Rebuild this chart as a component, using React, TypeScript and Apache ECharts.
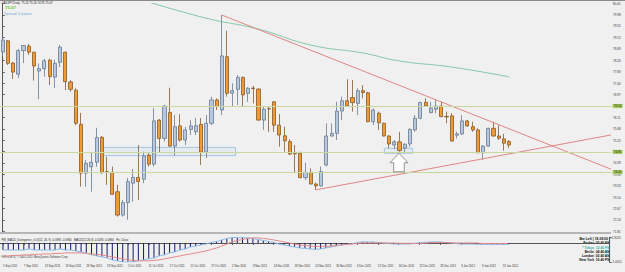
import React, { useEffect, useRef } from "react";
import * as echarts from "echarts";

// [open, close, low, high] per daily bar, CADJPY, from 1 Sep 2011
const ohlc: [number, number, number, number][] = [
  [78.58, 79.03, 78.43, 79.18], [79.0, 78.15, 78.09, 79.03], [78.16, 77.82, 77.56, 78.2], [77.74, 78.63, 77.6, 78.69],
  [78.63, 78.82, 78.16, 78.84], [78.8, 78.57, 78.47, 78.88], [78.57, 78.05, 77.5, 78.59], [77.86, 77.95, 76.8, 78.15],
  [77.95, 78.25, 77.64, 78.32], [78.27, 77.65, 77.33, 78.32], [77.63, 78.15, 77.22, 78.28], [78.19, 78.76, 78.01, 78.84],
  [78.57, 77.46, 77.14, 78.59], [77.45, 77.17, 77.08, 77.52], [77.14, 75.89, 75.82, 77.21], [75.85, 74.01, 73.5, 76.28],
  [74.01, 74.38, 73.5, 74.51], [74.25, 74.42, 73.31, 74.77], [74.42, 75.35, 74.25, 75.72], [75.36, 74.03, 73.98, 75.41],
  [74.06, 74.05, 73.57, 74.63], [74.04, 73.21, 73.19, 74.26], [73.31, 72.43, 72.37, 73.57], [72.43, 72.9, 72.37, 73.0],
  [72.9, 73.69, 72.25, 73.83], [73.63, 73.85, 72.93, 74.17], [73.85, 73.69, 73.0, 75.07], [73.78, 74.66, 73.63, 74.82],
  [74.69, 74.35, 74.26, 74.76], [74.35, 75.98, 74.26, 76.47], [76.01, 75.32, 74.77, 76.05], [75.32, 76.54, 75.2, 76.58],
  [76.3, 75.03, 75.01, 77.23], [75.03, 75.76, 74.66, 76.2], [75.79, 75.26, 75.2, 76.23], [75.26, 75.64, 75.07, 75.76],
  [75.66, 75.79, 75.45, 76.01], [75.57, 75.8, 75.45, 76.09], [75.85, 74.8, 74.32, 76.09], [74.8, 75.89, 74.58, 76.2],
  [75.89, 76.77, 75.82, 76.89], [76.77, 76.52, 76.39, 76.83], [76.39, 78.43, 76.2, 79.97], [78.4, 77.02, 76.89, 79.38],
  [77.02, 77.12, 76.52, 77.4], [77.17, 77.62, 76.58, 77.71], [77.62, 76.96, 76.52, 77.65], [77.02, 77.21, 76.7, 77.25],
  [77.22, 77.2, 76.64, 77.3], [77.18, 76.01, 75.99, 77.21], [76.01, 76.42, 75.64, 76.51], [76.44, 76.43, 75.57, 76.51],
  [76.7, 75.82, 75.57, 76.73], [75.82, 75.45, 75.01, 76.24], [75.42, 75.23, 74.82, 75.76], [75.2, 74.73, 74.69, 75.29],
  [74.76, 74.74, 74.01, 75.07], [74.76, 73.84, 73.82, 74.82], [73.84, 74.04, 73.75, 74.4], [74.04, 73.6, 73.59, 74.19],
  [73.6, 73.53, 73.38, 73.65], [73.53, 74.07, 73.5, 74.26], [74.32, 75.41, 74.26, 75.89], [75.41, 75.51, 75.39, 75.89],
  [75.51, 76.35, 75.26, 76.7], [76.35, 76.74, 76.01, 76.89], [76.74, 76.54, 76.52, 77.55], [76.86, 76.67, 76.33, 77.52],
  [76.64, 77.12, 76.2, 77.21], [77.12, 77.05, 76.83, 77.33], [77.04, 75.95, 75.93, 77.08], [75.95, 76.39, 75.82, 76.45],
  [76.27, 75.91, 75.64, 76.33], [75.89, 75.41, 75.39, 75.91], [75.41, 75.11, 74.95, 75.45], [75.07, 75.19, 74.91, 75.26],
  [75.19, 74.86, 74.82, 75.57], [74.95, 75.1, 74.76, 75.14], [75.11, 75.66, 75.01, 75.7], [75.64, 76.08, 75.57, 76.2],
  [76.08, 76.67, 76.04, 76.7], [76.68, 76.54, 76.52, 76.83], [76.29, 76.46, 76.27, 76.7], [76.42, 76.54, 76.27, 76.77],
  [76.54, 76.14, 76.12, 76.7], [76.15, 76.13, 75.89, 76.33], [76.17, 75.22, 75.2, 76.27], [75.44, 75.49, 75.32, 75.57],
  [75.49, 75.98, 75.45, 76.2], [75.98, 75.79, 75.76, 76.01], [75.76, 75.64, 75.57, 75.95], [75.64, 74.78, 74.76, 75.7],
  [74.78, 75.03, 74.51, 75.07], [75.03, 75.7, 75.01, 75.72], [75.7, 75.41, 75.39, 75.95], [75.41, 75.33, 75.26, 75.82],
  [75.3, 75.14, 74.86, 75.49], [75.2, 75.07, 74.95, 75.26],
];

const macdHist = [
  -0.39, -0.39, -0.39, -0.39, -0.39, -0.33, -0.39, -0.39, -0.39, -0.39, -0.39, -0.33, -0.39, -0.39, -0.44, -0.5,
  -0.55, -0.66, -0.72, -0.77, -0.83, -0.94, -0.99, -1.05, -1.05, -1.05, -0.99, -0.94, -0.88, -0.83, -0.72, -0.66,
  -0.55, -0.5, -0.39, -0.33, -0.22, -0.17, -0.11, -0.06, 0.03, 0.08, 0.17, 0.25, 0.3, 0.3, 0.3, 0.28,
  0.25, 0.19, 0.14, 0.08, 0.03, -0.06, -0.11, -0.17, -0.22, -0.28, -0.3, -0.33, -0.36, -0.33, -0.28, -0.22,
  -0.17, -0.11, -0.08, -0.06, 0.03, 0.06, 0.06, 0.06, 0.03, 0, -0.03, -0.06, -0.06, -0.06, -0.06, -0.03,
  0.02, 0.03, 0.06, 0.06, 0.06, 0.03, 0, -0.03, -0.06, -0.06, -0.06, -0.07, -0.08, -0.08, -0.08, -0.08,
  -0.08, -0.08,
];

const macdSignal = [
  -0.72, -0.72, -0.69, -0.69, -0.66, -0.66, -0.63, -0.63, -0.61, -0.61, -0.58, -0.58, -0.55, -0.55, -0.55, -0.55,
  -0.58, -0.61, -0.63, -0.66, -0.72, -0.77, -0.83, -0.88, -0.94, -0.96, -0.99, -0.99, -0.99, -0.96, -0.94, -0.88,
  -0.83, -0.77, -0.72, -0.66, -0.61, -0.55, -0.5, -0.44, -0.36, -0.28, -0.17, -0.06, 0.06, 0.14, 0.19, 0.25,
  0.28, 0.28, 0.25, 0.22, 0.17, 0.11, 0.06, 0, -0.06, -0.11, -0.14, -0.17, -0.19, -0.19, -0.19, -0.17,
  -0.14, -0.11, -0.08, -0.06, -0.03, 0, 0, 0, 0, 0, 0, 0, -0.02, -0.02, -0.02, -0.02,
  -0.02, -0.02, 0.02, 0.02, 0.02, 0.02, 0.02, 0, 0, 0, 0, 0, -0.03, -0.03, -0.03, -0.03,
  -0.03, -0.03,
];

// moving average read at a few bars: [barIndex, price]
const maPoints: [number, number][] = [
  [20, 80.95], [38, 79.9], [49, 79.44], [59, 78.84], [69, 78.54], [76, 78.24], [86, 78.01], [97, 77.64],
];
const upperTrend: [number, number][] = [[42, 79.97], [116.5, 74.16]];
const lowerTrend: [number, number][] = [[60, 73.38], [116.5, 75.45]];
const levelLines = [76.54, 74.81, 74.05];
const lastPrice = 75.07;
const zones: [number, number, number, number][] = [
  [19.3, 74.98, 44.6, 74.67],
  [73.1, 74.95, 78.5, 74.76],
];
const arrowAnchor: [number, number] = [75.9, 74.41];

const TOTAL_SLOTS = 117;
const BAR_COUNT = ohlc.length;
const MONTHS = ["Jan", "Feb", "Mar", "Apr", "May", "Jun", "Jul", "Aug", "Sep", "Oct", "Nov", "Dec"];

function buildCategories(): string[] {
  const out: string[] = [];
  let t = Date.UTC(2011, 8, 1);
  while (out.length < BAR_COUNT) {
    const d = new Date(t);
    const wd = d.getUTCDay();
    if (wd !== 0 && wd !== 6) out.push(`${d.getUTCDate()} ${MONTHS[d.getUTCMonth()]} ${d.getUTCFullYear()}`);
    t += 86400000;
  }
  while (out.length < TOTAL_SLOTS) out.push("");
  return out;
}

const FONT = "Liberation Sans";

export default function App() {
  const ref = useRef<HTMLDivElement>(null);
  useEffect(() => {
    if (!ref.current) return;
    const chart = echarts.init(ref.current, undefined, { renderer: "svg" });
    const cats = buildCategories();
    const showLabel = (i: number) => i % 4 === 0 && i <= 96;

    const infoNames = ["Broker", "* Tokyo", "Berlin", "London", "New York"];
    const infoTimes = ["05:40 AM", "12:40 PM", "04:40 AM", "03:40 AM", "10:40 PM"];
    const infoTexts: any[] = [
      {
        type: "text", x: 610, y: 238.8,
        style: { text: "Bar Left [ 18:28:00 ]", fontSize: 3.3, fontWeight: "bold", fill: "#111", fontFamily: FONT, align: "right", verticalAlign: "middle" },
      },
    ];
    infoNames.forEach((n, k) => {
      const col = k === 1 ? "#2fb0a8" : "#111";
      infoTexts.push({
        type: "text", x: 594, y: 243.1 + k * 4.3,
        style: { text: n, fontSize: 3.3, fontWeight: "bold", fill: col, fontFamily: FONT, align: "right", verticalAlign: "middle" },
      });
      infoTexts.push({
        type: "text", x: 610, y: 243.1 + k * 4.3,
        style: { text: infoTimes[k], fontSize: 3.3, fontWeight: "bold", fill: col, fontFamily: FONT, align: "right", verticalAlign: "middle" },
      });
    });

    const option: any = {
      animation: false,
      backgroundColor: "transparent",
      grid: [
        { left: -2, right: 14, top: 3.4, height: 228.1 },
        { left: -2, right: 14, top: 237.5, height: 24.5 },
      ],
      xAxis: [
        { type: "category", gridIndex: 0, data: cats, show: false },
        { type: "value", gridIndex: 0, min: -0.5, max: TOTAL_SLOTS - 0.5, show: false },
        {
          type: "category", gridIndex: 1, data: cats,
          axisLine: { show: true, lineStyle: { color: "#555", width: 1 } },
          axisTick: { show: true, alignWithLabel: true, interval: (i: number) => showLabel(i), length: 2, lineStyle: { color: "#555" } },
          axisLabel: {
            interval: (i: number) => showLabel(i), fontSize: 2.8, color: "#333", fontFamily: FONT,
            align: "left", margin: 2,
          },
          splitLine: { show: false },
        },
      ],
      yAxis: [
        {
          type: "value", gridIndex: 0, position: "right", min: 71.81, max: 80.41, interval: 0.43,
          axisLine: { show: true, lineStyle: { color: "#555", width: 1 } },
          axisTick: { show: true, length: 2, lineStyle: { color: "#555" } },
          axisLabel: { fontSize: 3.1, color: "#333", fontFamily: FONT, margin: 2, formatter: (v: number) => v.toFixed(2) },
          splitLine: { show: false },
        },
        {
          type: "value", gridIndex: 1, position: "right", min: -1.0551, max: 0.3025, interval: 1.3576,
          axisLine: { show: true, lineStyle: { color: "#555", width: 1 } },
          axisTick: { show: true, length: 2, lineStyle: { color: "#555" } },
          axisLabel: { fontSize: 3.1, color: "#333", fontFamily: FONT, margin: 2, showMaxLabel: true, showMinLabel: true, formatter: (v: number) => v.toFixed(4) },
          splitLine: { show: false },
        },
      ],
      series: [
        {
          type: "candlestick", xAxisIndex: 0, yAxisIndex: 0, data: ohlc, barWidth: 3.6,
          itemStyle: { color: "#b6c8de", color0: "#ef9b35", borderColor: "#6a7a90", borderColor0: "#86592a", borderWidth: 0.8 },
        },
        {
          type: "line", xAxisIndex: 1, yAxisIndex: 0, data: maPoints, smooth: true, showSymbol: false,
          lineStyle: { color: "#86c9a8", width: 1 },
        },
        {
          type: "line", xAxisIndex: 1, yAxisIndex: 0, data: lowerTrend, showSymbol: false,
          lineStyle: { color: "#e08585", width: 1 },
        },
        {
          type: "line", xAxisIndex: 1, yAxisIndex: 0, data: upperTrend, showSymbol: false,
          lineStyle: { color: "#e08585", width: 1 },
          markArea: {
            silent: true,
            itemStyle: { color: "rgba(175,205,235,0.15)", borderColor: "#a3c6e2", borderWidth: 1 },
            data: zones.map((z) => [{ coord: [z[0], z[1]] }, { coord: [z[2], z[3]] }]),
          },
          markLine: {
            silent: true, symbol: ["none", "none"],
            data: [
              ...levelLines.map((v) => ({
                yAxis: v,
                lineStyle: { color: "#c9d99e", width: 1, type: "solid" },
                label: {
                  show: true, position: "end", formatter: v.toFixed(2), backgroundColor: "#a9cf5e",
                  color: "#111", fontSize: 3.1, fontFamily: FONT, padding: [0.6, 1.2], distance: 1.5,
                },
              })),
              {
                yAxis: lastPrice,
                lineStyle: { opacity: 0 },
                label: {
                  show: true, position: "end", formatter: lastPrice.toFixed(2), backgroundColor: "#000",
                  color: "#fff", fontSize: 3.1, fontFamily: FONT, padding: [0.6, 1.2], distance: 1.5,
                },
              },
            ],
          },
          markPoint: {
            silent: true,
            data: [
              {
                coord: arrowAnchor,
                symbol: "path://M9,0 L18,9.5 L14.3,9.5 L14.3,18.5 L3.7,18.5 L3.7,9.5 L0,9.5 Z",
                symbolSize: [18, 18.5],
                itemStyle: { color: "#ffffff", borderColor: "#7a7a7a", borderWidth: 0.8 },
                label: { show: false },
              },
            ],
          },
        },
        {
          type: "bar", xAxisIndex: 2, yAxisIndex: 1, data: macdHist, barWidth: 1,
          itemStyle: { color: "#101a66" },
        },
        {
          type: "line", xAxisIndex: 2, yAxisIndex: 1, data: macdHist, showSymbol: false,
          lineStyle: { color: "#8fbbe8", width: 1 },
        },
        {
          type: "line", xAxisIndex: 2, yAxisIndex: 1, data: macdSignal, showSymbol: false,
          lineStyle: { color: "#e48a8a", width: 1 },
        },
      ],
      graphic: [
        { type: "line", shape: { x1: 0, y1: 0.5, x2: 625, y2: 0.5 }, style: { stroke: "#8a8a8a", lineWidth: 1 } },
        { type: "line", shape: { x1: 0, y1: 233, x2: 611, y2: 233 }, style: { stroke: "#7a7a7a", lineWidth: 1 } },
        {
          type: "text", x: 1.5, y: 3,
          style: { text: "CADJPY,Daily  75.20 75.26 74.95 75.07", fontSize: 2.9, fill: "#222", fontFamily: FONT, verticalAlign: "middle" },
        },
        {
          type: "text", x: 5, y: 7.6,
          style: { text: "75.07", fontSize: 4.4, fontWeight: "bold", fill: "#5cc82a", fontFamily: FONT, verticalAlign: "middle" },
        },
        {
          type: "text", x: 4, y: 13.6,
          style: { text: "Spread: 6 points", fontSize: 3.8, fill: "#78acd8", fontFamily: FONT, verticalAlign: "middle" },
        },
        {
          type: "text", x: 1.5, y: 239.6,
          style: {
            text: "PW_MACD_Divergence_v1.0(12, 26, 9) -0.0995 -0.0960   MACD(12,26,9) -0.0295 -0.0960   Pri. Close",
            fontSize: 2.8, fill: "#222", fontFamily: FONT, verticalAlign: "middle",
          },
        },
        {
          type: "text", x: 1.5, y: 256.8,
          style: { text: "FxPro MT4, \u00a9 2001-2011 MetaQuotes Software Corp.", fontSize: 2.8, fill: "#333", fontFamily: FONT, verticalAlign: "middle" },
        },
        ...infoTexts,
      ],
    };
    chart.setOption(option);
    return () => chart.dispose();
  }, []);

  return (
    <div style={{ position: "fixed", left: 0, top: 0, width: 625, height: 272, background: "#f0f0f0", margin: 0 }}>
      <div ref={ref} style={{ width: 625, height: 272 }} />
    </div>
  );
}
